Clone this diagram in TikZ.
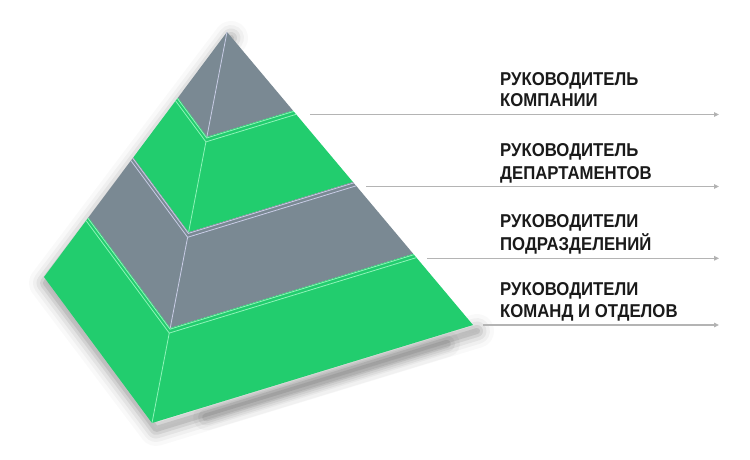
\documentclass[tikz,border=0pt]{standalone}
\usepackage{fontspec}
\newfontfamily\lblfont{Liberation Sans}[FakeStretch=0.9]
\usetikzlibrary{calc,arrows.meta}
\definecolor{pgreen}{HTML}{22CD6E}
\definecolor{pgray}{HTML}{7A8993}
\definecolor{lgreen}{HTML}{8FF3B8}
\definecolor{lgray}{HTML}{C9CDE6}
\definecolor{shade}{HTML}{3E6288}
\definecolor{arrgray}{HTML}{B4B4B4}
\definecolor{txt}{HTML}{1A1A1A}
\tikzset{
  lbl/.style={font={\lblfont\bfseries\fontsize{18.6pt}{22pt}\selectfont}, text=txt, anchor=base west, inner sep=0pt},
  arr/.style={draw=arrgray, line width=1.2pt, -{Triangle[length=5pt,width=4.5pt,fill=arrgray!80!black]}},
  ridgeG/.style={draw=lgreen, line width=0.8pt},
  ridgeY/.style={draw=lgray, line width=0.8pt},
}
\begin{document}
\begin{tikzpicture}[x=1pt,y=-1pt]
\useasboundingbox (0,0) rectangle (750,459);
\fill[white] (0,0) rectangle (750,459);
\coordinate (A) at (227,32);
\coordinate (L) at (44,277);
\coordinate (F) at (152,423);
\coordinate (R) at (473,325);
\foreach \n/\t in {1/0.268,2/0.512,3/0.757}{
  \coordinate (L\n) at ($(A)!\t!(L)$);
  \coordinate (F\n) at ($(A)!\t!(F)$);
  \coordinate (R\n) at ($(A)!\t!(R)$);
}
\foreach \n/\t in {1/0.271,2/0.515,3/0.760}{
  \coordinate (La\n) at ($(A)!\t!(L)$);
  \coordinate (Fa\n) at ($(A)!\t!(F)$);
  \coordinate (Ra\n) at ($(A)!\t!(R)$);
}
\foreach \n/\t in {1/0.281,2/0.525,3/0.770}{
  \coordinate (Lb\n) at ($(A)!\t!(L)$);
  \coordinate (Fb\n) at ($(A)!\t!(F)$);
  \coordinate (Rb\n) at ($(A)!\t!(R)$);
}
% shadow
\foreach \w/\o in {34/0.025,26/0.035,19/0.05,12/0.07,6/0.09}{
  \draw[shade, line width=\w pt, opacity=\o, line join=round, line cap=round]
    ([shift={(4,6)}]A) -- ([shift={(2,6)}]L) -- ([shift={(4,6)}]F) -- ([shift={(4,6)}]R);
}
\foreach \w/\o in {26/0.03,16/0.05,8/0.08}{
  \draw[shade, line width=\w pt, opacity=\o, line cap=round]
    ([shift={(6,9)}]$(F)!0.15!(R)$) -- ([shift={(6,9)}]$(F)!0.9!(R)$);
}
% tiers
\fill[pgray] (A) -- (L1) -- (F1) -- (R1) -- cycle;
\fill[pgreen] (L1) -- (F1) -- (R1) -- (R2) -- (F2) -- (L2) -- cycle;
\fill[pgray] (L2) -- (F2) -- (R2) -- (R3) -- (F3) -- (L3) -- cycle;
\fill[pgreen] (L3) -- (F3) -- (R3) -- (R) -- (F) -- (L) -- cycle;
% ridges
\draw[ridgeY] (A) -- (F1);
\draw[ridgeG] (Fb1) -- (F2);
\draw[ridgeY] (Fb2) -- (F3);
\draw[ridgeG] (Fb3) -- (F);
% bevel lines
\draw[ridgeG] (La1) -- (Fa1) -- (Ra1);
\draw[ridgeG] (Lb1) -- (Fb1) -- (Rb1);
\draw[ridgeY] (La2) -- (Fa2) -- (Ra2);
\draw[ridgeY] (Lb2) -- (Fb2) -- (Rb2);
\draw[ridgeG] (La3) -- (Fa3) -- (Ra3);
\draw[ridgeG] (Lb3) -- (Fb3) -- (Rb3);
% labels
\node[lbl] (t1a) at (500,85) {РУКОВОДИТЕЛЬ};
\node[lbl] (t1b) at (500,106.7) {КОМПАНИИ};
\node[lbl] (t2a) at (500,156.7) {РУКОВОДИТЕЛЬ};
\node[lbl] (t2b) at (500,179.3) {ДЕПАРТАМЕНТОВ};
\node[lbl] (t3a) at (500,227.3) {РУКОВОДИТЕЛИ};
\node[lbl] (t3b) at (500,250) {ПОДРАЗДЕЛЕНИЙ};
\node[lbl] (t4a) at (500,295) {РУКОВОДИТЕЛИ};
\node[lbl] (t4b) at (500,317.3) {КОМАНД И ОТДЕЛОВ};
% arrows
\coordinate (s1) at (310,114.5); \coordinate (e1) at (719,114.5);
\coordinate (s2) at (366,186.5); \coordinate (e2) at (719,186.5);
\coordinate (s3) at (427,258.3); \coordinate (e3) at (719,258.3);
\coordinate (s4) at (483,325);   \coordinate (e4) at (719,325);
\draw[arr] (s1) -- (e1);
\draw[arr] (s2) -- (e2);
\draw[arr] (s3) -- (e3);
\draw[arr] (s4) -- (e4);
\end{tikzpicture}
\end{document}
